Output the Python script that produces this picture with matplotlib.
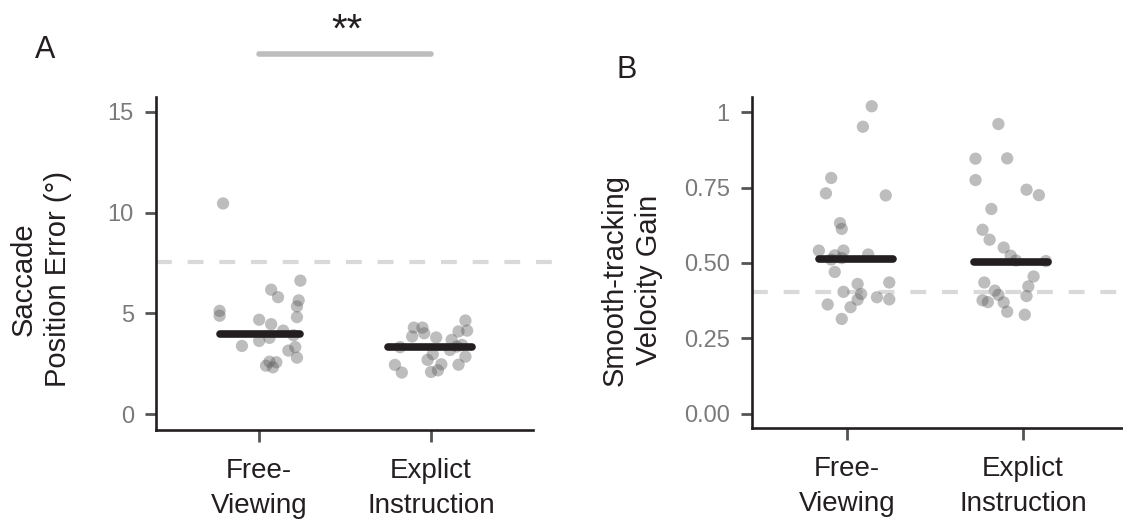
from matplotlib import pyplot as plt
import numpy as np

plt.rcParams['font.family'] = ['Liberation Sans', 'DejaVu Sans']

# categories
conditions = ['Free-\nViewing', 'Explict\nInstruction']

# Panel A: saccade position error (deg), jitter offsets
a_free = [10.45, 5.12, 4.88, 6.62, 6.17, 5.80, 5.64, 5.34, 4.81, 4.68, 4.46, 4.14,
          3.78, 3.63, 3.91, 3.38, 3.15, 3.32, 2.80, 2.40, 2.32, 2.57, 2.60]
a_free_jit = [-0.21, -0.23, -0.23, 0.24, 0.07, 0.11, 0.23, 0.22, 0.22, 0.00, 0.07, 0.14,
              0.06, 0.00, 0.20, -0.10, 0.17, 0.21, 0.22, 0.04, 0.08, 0.10, 0.06]
a_expl = [2.44, 2.06, 3.32, 4.29, 4.29, 3.85, 4.01, 3.80, 2.69, 2.97, 2.47, 2.17,
          2.09, 3.68, 4.10, 4.64, 4.14, 3.43, 3.18, 2.85, 2.45, 3.35]
a_expl_jit = [-0.21, -0.17, -0.18, -0.10, -0.05, -0.11, -0.04, 0.03, -0.02, 0.01, 0.06, 0.04,
              0.00, 0.12, 0.16, 0.20, 0.21, 0.18, 0.11, 0.20, 0.16, 0.15]
a_centre = [3.98, 3.33]
a_chance = 7.56

# Panel B: smooth-tracking velocity gain
b_free = [1.02, 0.952, 0.782, 0.731, 0.724, 0.632, 0.613, 0.541, 0.541, 0.525, 0.511, 0.516,
          0.528, 0.470, 0.430, 0.435, 0.404, 0.397, 0.378, 0.386, 0.379, 0.362, 0.353, 0.314]
b_free_jit = [0.14, 0.09, -0.09, -0.12, 0.22, -0.04, -0.03, -0.16, -0.02, -0.07, -0.09, -0.03,
              0.12, -0.07, 0.06, 0.24, -0.02, 0.08, 0.06, 0.17, 0.24, -0.11, 0.02, -0.03]
b_expl = [0.961, 0.846, 0.847, 0.775, 0.743, 0.725, 0.679, 0.610, 0.577, 0.551, 0.524, 0.508,
          0.506, 0.455, 0.435, 0.422, 0.408, 0.394, 0.390, 0.376, 0.370, 0.369, 0.338, 0.328]
b_expl_jit = [-0.14, -0.27, -0.09, -0.27, 0.02, 0.09, -0.18, -0.23, -0.19, -0.11, -0.07, -0.04,
              0.13, 0.06, -0.22, 0.03, -0.16, -0.14, 0.02, -0.23, -0.20, -0.11, -0.09, 0.01]
b_centre = [0.514, 0.504]
b_chance = 0.405

DARK = '#231f20'
PT_COL = '#5a5a5a'


def style_axes(ax, yticks, yticklabels):
    for s in ['top', 'right']:
        ax.spines[s].set_visible(False)
    for s in ['left', 'bottom']:
        ax.spines[s].set_linewidth(1.9)
        ax.spines[s].set_color(DARK)
    ax.set_xticks([0, 1])
    ax.set_xticklabels(conditions, fontsize=20, color=DARK, linespacing=1.45)
    ax.set_yticks(yticks)
    ax.set_yticklabels(yticklabels, fontsize=17, color='#7a7a7a')
    ax.tick_params(axis='y', length=8, width=2, color='#555555', pad=8)
    ax.tick_params(axis='x', length=8.5, width=2, color='#555555', pad=12)


def draw_panel(ax, groups, jits, centres, chance, bars):
    ax.axhline(chance, color='#d9d9d9', lw=3, dashes=(3.8, 3.8), zorder=1)
    for i, (vals, jit) in enumerate(zip(groups, jits)):
        ax.scatter(i + np.array(jit), vals, s=78, color=PT_COL, alpha=0.4,
                   edgecolors='none', zorder=2)
        ax.plot([i + bars[i][0], i + bars[i][1]], [centres[i], centres[i]],
                color=DARK, lw=5.5, solid_capstyle='round', zorder=3)


fig = plt.figure(figsize=(11.23, 5.25), dpi=100)

# Panel A
axA = fig.add_axes([156 / 1123, 95 / 525, 400 / 1123, 333 / 525])
draw_panel(axA, [a_free, a_expl], [a_free_jit, a_expl_jit], a_centre, a_chance,
           [(-0.23, 0.24), (-0.25, 0.24)])
axA.set_xlim(-0.6, 1.727)
axA.set_ylim(-0.79, 15.73)
axA.spines['bottom'].set_bounds(-0.6, 1.593)
style_axes(axA, [0, 5, 10, 15], ['0', '5', '10', '15'])
# significance bar
axA.plot([0, 1], [17.87, 17.87], color='#bdbdbd', lw=4, solid_capstyle='round',
         clip_on=False)
axA.text(0.51, 19.0, '**', fontsize=29, ha='center', va='center', color=DARK)
fig.text(41 / 1123, 1 - 279 / 525, 'Saccade\nPosition Error (°)', rotation=90,
         ha='center', va='center', fontsize=21, color=DARK, linespacing=1.3)
fig.text(45 / 1123, 1 - 50 / 525, 'A', fontsize=22, ha='center', va='center', color=DARK)

# Panel B
axB = fig.add_axes([752 / 1123, 97 / 525, 371 / 1123, 331 / 525])
draw_panel(axB, [b_free, b_expl], [b_free_jit, b_expl_jit], b_centre, b_chance,
           [(-0.16, 0.26), (-0.28, 0.14)])
axB.set_xlim(-0.54, 1.568)
axB.set_ylim(-0.048, 1.0507)
style_axes(axB, [0, 0.25, 0.5, 0.75, 1], ['0.00', '0.25', '0.50', '0.75', '1'])
fig.text(632 / 1123, 1 - 280 / 525, 'Smooth-tracking\nVelocity Gain', rotation=90,
         ha='center', va='center', fontsize=21, color=DARK, linespacing=1.3)
fig.text(627 / 1123, 1 - 70 / 525, 'B', fontsize=22, ha='center', va='center', color=DARK)

plt.savefig('out.png', dpi=100)
